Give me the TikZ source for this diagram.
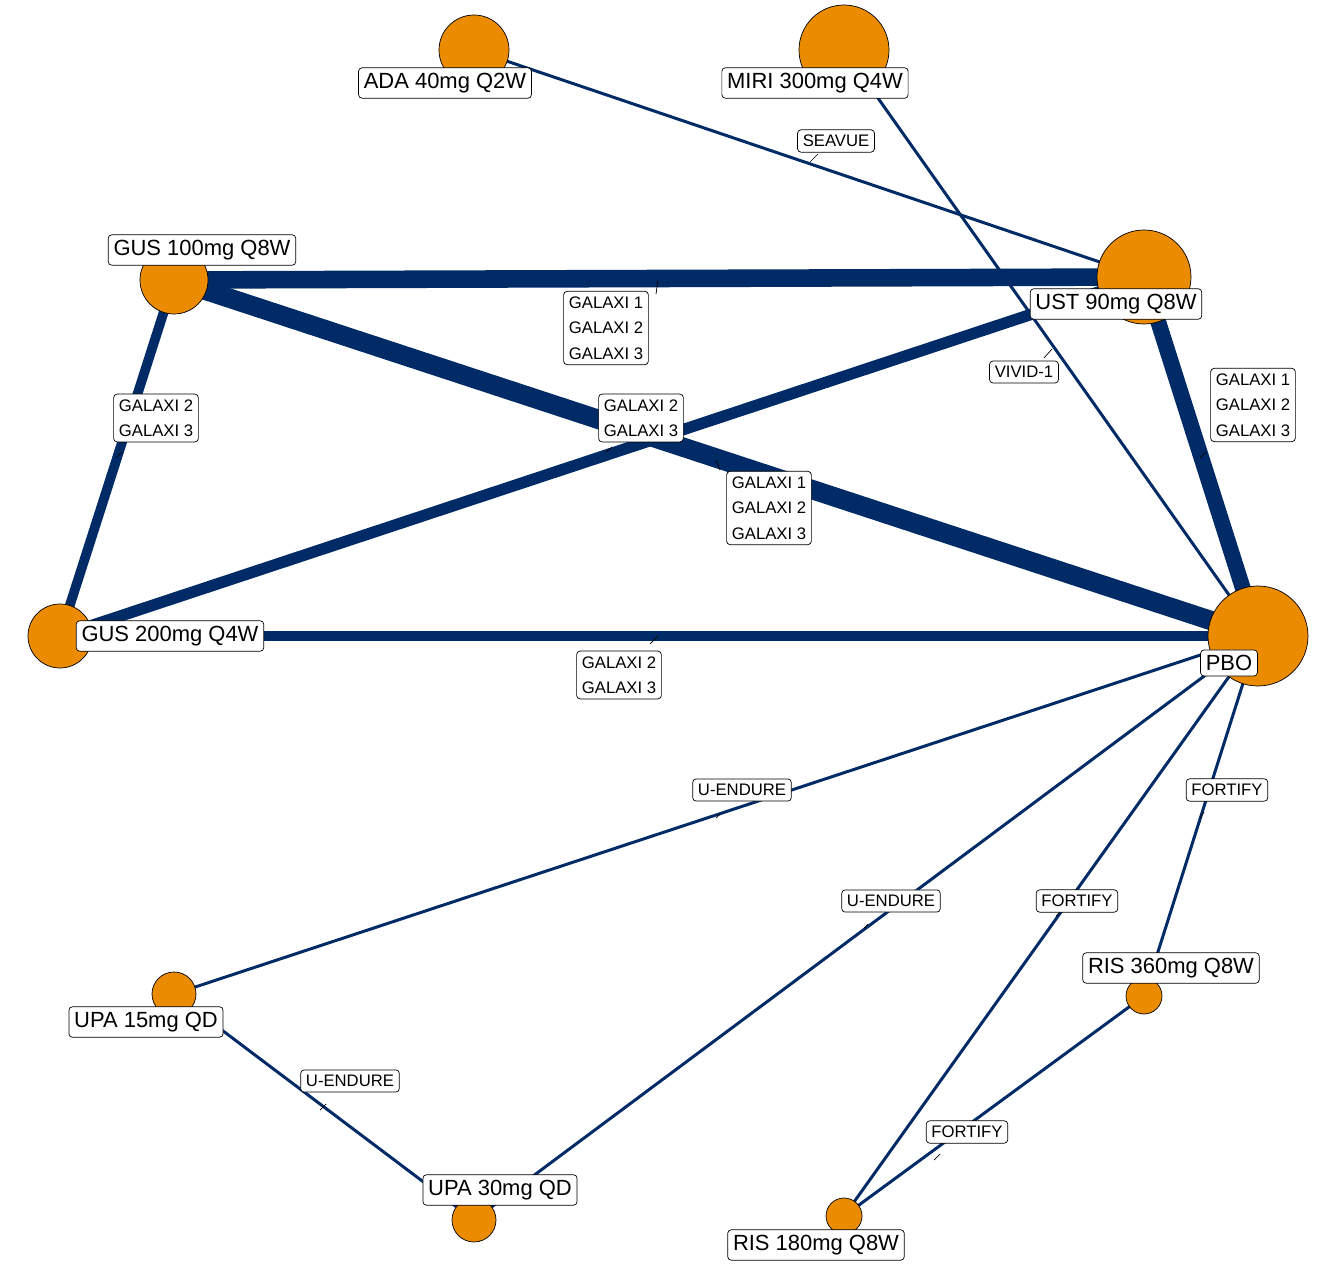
\documentclass[tikz,border=0pt]{standalone}
\usepackage{fontspec}
\setmainfont{Liberation Sans}
\usetikzlibrary{positioning}
\definecolor{edgeblue}{RGB}{0,43,102}
\definecolor{nodeorange}{RGB}{235,140,0}
\tikzset{
  trt/.style={circle,draw=black,thin,fill=nodeorange,inner sep=0pt},
  trtlab/.style={draw=black,fill=white,rounded corners=2pt,font=\fontsize{12.5}{14}\selectfont,inner sep=3pt},
  studylab/.style={draw=black,fill=white,rounded corners=2pt,align=center,font=\fontsize{9.5}{14.5}\selectfont,inner sep=3pt},
  link/.style={draw=edgeblue},
  tick/.style={draw=black,thin}
}
\begin{document}
\begin{tikzpicture}[x=0.02cm,y=-0.02cm]
\useasboundingbox (0,0) rectangle (1320,1277);

% treatment positions
\coordinate (ada) at (474,50);
\coordinate (miri) at (844,50);
\coordinate (ust) at (1144,277);
\coordinate (gus100) at (174,280);
\coordinate (gus200) at (60,636);
\coordinate (pbo) at (1258,636);
\coordinate (upa15) at (174,994);
\coordinate (upa30) at (474,1220);
\coordinate (ris360) at (1144,996);
\coordinate (ris180) at (844,1216);

% comparisons
\draw[link,line width=1.7pt] (ada) -- (ust);
\draw[link,line width=1.7pt] (miri) -- (pbo);
\draw[link,line width=10pt] (gus100) -- (ust);
\draw[link,line width=11pt] (gus100) -- (pbo);
\draw[link,line width=5.5pt] (gus100) -- (gus200);
\draw[link,line width=6.5pt] (ust) -- (gus200);
\draw[link,line width=9pt] (ust) -- (pbo);
\draw[link,line width=5.5pt] (gus200) -- (pbo);
\draw[link,line width=1.7pt] (pbo) -- (upa15);
\draw[link,line width=1.7pt] (pbo) -- (upa30);
\draw[link,line width=1.7pt] (pbo) -- (ris360);
\draw[link,line width=1.7pt] (pbo) -- (ris180);
\draw[link,line width=1.7pt] (upa15) -- (upa30);
\draw[link,line width=1.7pt] (ris360) -- (ris180);

% treatments
\node[trt,minimum size=70*0.02cm] (adaC) at (ada) {};
\node[trt,minimum size=90*0.02cm] (miriC) at (miri) {};
\node[trt,minimum size=94*0.02cm] (ustC) at (ust) {};
\node[trt,minimum size=68*0.02cm] (gus100C) at (gus100) {};
\node[trt,minimum size=64*0.02cm] (gus200C) at (gus200) {};
\node[trt,minimum size=100*0.02cm] (pboC) at (pbo) {};
\node[trt,minimum size=44*0.02cm] (upa15C) at (upa15) {};
\node[trt,minimum size=44*0.02cm] (upa30C) at (upa30) {};
\node[trt,minimum size=36*0.02cm] (ris360C) at (ris360) {};
\node[trt,minimum size=36*0.02cm] (ris180C) at (ris180) {};

% tick points on the comparisons
\coordinate (tSea) at (818,154);
\coordinate (tG1) at (658,280);
\coordinate (tViv) at (1052,349);
\coordinate (tG2) at (1206,452);
\coordinate (tG3) at (122,452);
\coordinate (tG4) at (612,447);
\coordinate (tG5) at (716,460);
\coordinate (tG6) at (658,636);
\coordinate (tU1) at (720,814);
\coordinate (tF1) at (1204,812);
\coordinate (tU2) at (868,924);
\coordinate (tF2) at (1060,912);
\coordinate (tU3) at (326,1104);
\coordinate (tF3) at (940,1154);

\draw[tick] (tSea) -- (810,162);
\draw[tick] (tG1) -- (656,294);
\draw[tick] (tViv) -- (1044,358);
\draw[tick] (tG2) -- (1200,458);
\draw[tick] (tG3) -- (116,458);
\draw[tick] (tG4) -- (606,452);
\draw[tick] (tG5) -- (720,470);
\draw[tick] (tG6) -- (650,644);
\draw[tick] (tU1) -- (716,818);
\draw[tick] (tF1) -- (1200,818);
\draw[tick] (tU2) -- (864,928);
\draw[tick] (tF2) -- (1056,916);
\draw[tick] (tU3) -- (320,1110);
\draw[tick] (tF3) -- (934,1160);

% study labels
\node[studylab] (sSea) at (836,141) {SEAVUE};
\node[studylab] (sG1) at (606,328) {GALAXI 1\\GALAXI 2\\GALAXI 3};
\node[studylab] (sViv) at (1024,372) {VIVID-1};
\node[studylab] (sG2) at (1253,405) {GALAXI 1\\GALAXI 2\\GALAXI 3};
\node[studylab] (sG3) at (156,418) {GALAXI 2\\GALAXI 3};
\node[studylab] (sG4) at (641,418) {GALAXI 2\\GALAXI 3};
\node[studylab] (sG5) at (769,508) {GALAXI 1\\GALAXI 2\\GALAXI 3};
\node[studylab] (sG6) at (619,675) {GALAXI 2\\GALAXI 3};
\node[studylab] (sU1) at (742,790) {U-ENDURE};
\node[studylab] (sF1) at (1227,790) {FORTIFY};
\node[studylab] (sU2) at (891,901) {U-ENDURE};
\node[studylab] (sF2) at (1077,901) {FORTIFY};
\node[studylab] (sU3) at (350,1081) {U-ENDURE};
\node[studylab] (sF3) at (967,1132) {FORTIFY};

% treatment labels
\node[trtlab] (adaL) at (445,83) {ADA 40mg Q2W};
\node[trtlab] (miriL) at (815,83) {MIRI 300mg Q4W};
\node[trtlab] (gus100L) at (202,250) {GUS 100mg Q8W};
\node[trtlab] (ustL) at (1116,304) {UST 90mg Q8W};
\node[trtlab] (gus200L) at (170,636) {GUS 200mg Q4W};
\node[trtlab] (pboL) at (1229,663) {PBO};
\node[trtlab] (upa15L) at (146,1022) {UPA 15mg QD};
\node[trtlab] (upa30L) at (500,1190) {UPA 30mg QD};
\node[trtlab] (ris360L) at (1171,968) {RIS 360mg Q8W};
\node[trtlab] (ris180L) at (816,1245) {RIS 180mg Q8W};
\end{tikzpicture}
\end{document}
